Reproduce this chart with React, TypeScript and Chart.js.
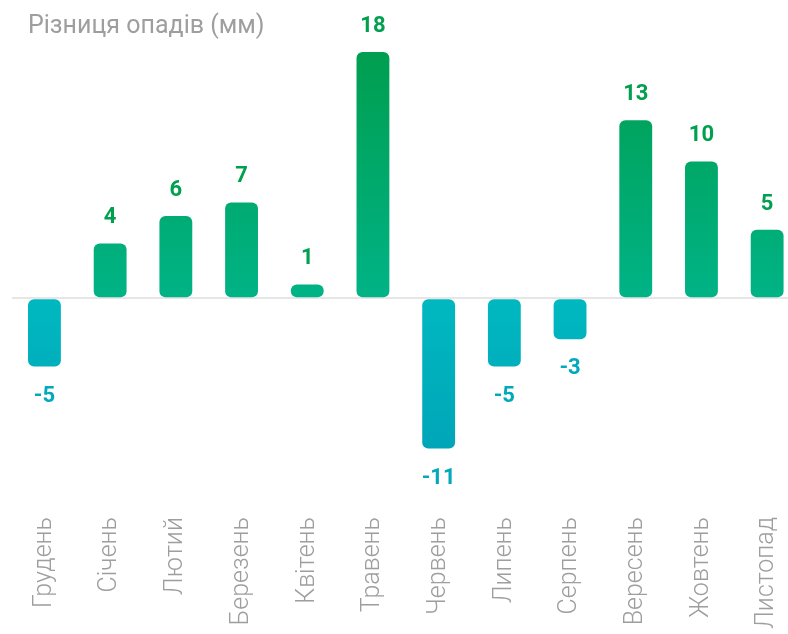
import React, { useEffect, useRef } from "react";
import { Chart, registerables } from "chart.js";

Chart.register(...registerables);

const categories = [
  "Грудень",
  "Січень",
  "Лютий",
  "Березень",
  "Квітень",
  "Травень",
  "Червень",
  "Липень",
  "Серпень",
  "Вересень",
  "Жовтень",
  "Листопад",
];
const values = [-5, 4, 6, 7, 1, 18, -11, -5, -3, 13, 10, 5];
const titleText = "Різниця опадів (мм)";
const yMin = -16;
const yMax = 20;

const POS_TOP = "#009E4F";
const POS_ZERO = "#00B386";
const NEG_ZERO = "#00B8C0";
const NEG_BOTTOM = "#00A6B8";
const POS_LABEL = "#00A04F";
const NEG_LABEL = "#00AABB";
const GRAY = "#9E9E9E";
const FONT = "Roboto, 'Noto Sans', sans-serif";

export default function App() {
  const canvasRef = useRef<HTMLCanvasElement | null>(null);

  useEffect(() => {
    if (!canvasRef.current) return;
    document.documentElement.style.overflow = "hidden";
    const maxV = Math.max(...values);
    const minV = Math.min(...values);

    const labelPlugin = {
      id: "valueLabels",
      afterDatasetsDraw(chart: any) {
        const ctx = chart.ctx;
        const meta = chart.getDatasetMeta(0);
        ctx.save();
        ctx.font = `bold 22px ${FONT}`;
        ctx.textAlign = "center";
        ctx.textBaseline = "alphabetic";
        meta.data.forEach((bar: any, i: number) => {
          const v = values[i];
          ctx.fillStyle = v >= 0 ? POS_LABEL : NEG_LABEL;
          ctx.fillText(String(v), bar.x, v >= 0 ? bar.y - 20 : bar.y + 35);
        });
        ctx.font = `25px ${FONT}`;
        ctx.textAlign = "left";
        ctx.fillStyle = GRAY;
        ctx.fillText(titleText, 20, 25.3);
        ctx.restore();
      },
    };

    const chart = new Chart(canvasRef.current, {
      type: "bar",
      data: {
        labels: categories,
        datasets: [
          {
            data: values,
            backgroundColor: (c: any) => {
              const ch = c.chart;
              if (!ch.chartArea) return POS_ZERO;
              const ys = ch.scales.y;
              const v = c.raw as number;
              const z = ys.getPixelForValue(0);
              if (v >= 0) {
                const g = ch.ctx.createLinearGradient(0, ys.getPixelForValue(maxV), 0, z);
                g.addColorStop(0, POS_TOP);
                g.addColorStop(1, POS_ZERO);
                return g;
              }
              const g = ch.ctx.createLinearGradient(0, z, 0, ys.getPixelForValue(minV));
              g.addColorStop(0, NEG_ZERO);
              g.addColorStop(1, NEG_BOTTOM);
              return g;
            },
            borderRadius: 6,
            borderSkipped: false,
            barPercentage: 0.5,
            categoryPercentage: 1,
          },
        ],
      },
      options: {
        animation: false,
        responsive: true,
        maintainAspectRatio: false,
        layout: { padding: { left: 3.6, top: 16.6, right: 0, bottom: 0 } },
        plugins: {
          legend: { display: false },
          tooltip: { enabled: false },
          title: { display: false },
        },
        scales: {
          x: {
            grid: { display: false },
            border: { display: false },
            ticks: {
              minRotation: 90,
              maxRotation: 90,
              color: GRAY,
              padding: -8,
              font: { family: FONT, size: 25, weight: "300" },
            },
            afterFit: (scale: any) => {
              scale.height = 120;
            },
          },
          y: {
            min: yMin,
            max: yMax,
            border: { display: false },
            ticks: { display: false, stepSize: 2 },
            grid: {
              drawTicks: false,
              lineWidth: 2,
              color: (c: any) => (c.tick && c.tick.value === 0 ? "#E6E6E6" : "rgba(0,0,0,0)"),
            },
          },
        },
      },
      plugins: [labelPlugin],
    });
    return () => chart.destroy();
  }, []);

  return (
    <div
      style={{
        position: "absolute",
        left: 8,
        top: 8,
        width: 792,
        height: 626,
        overflow: "hidden",
      }}
    >
      <div style={{ width: 792, height: 629, position: "relative" }}>
        <canvas ref={canvasRef} />
      </div>
    </div>
  );
}
